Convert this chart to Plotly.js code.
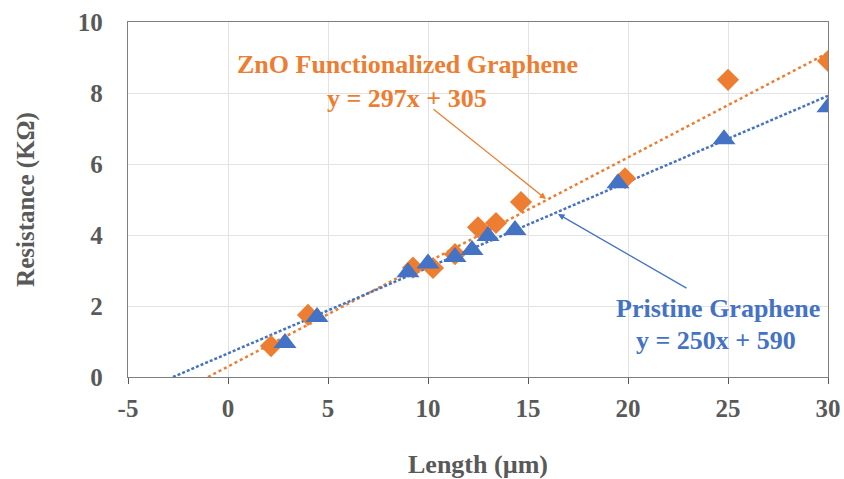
<!DOCTYPE html>
<html><head><meta charset="utf-8">
<script src="https://cdn.plot.ly/plotly-3.0.1.min.js"></script>
<style>html,body{margin:0;padding:0;background:#fff}#chart{width:844px;height:479px}</style>
</head><body><div id="chart"></div>
<script>
// Data (Length in µm, Resistance in KΩ)
const znoLength = [2.15, 4.0, 9.25, 10.25, 11.35, 12.5, 13.4, 14.65, 19.85, 25.0, 30.0];
const znoResistance = [0.87, 1.75, 3.08, 3.07, 3.46, 4.22, 4.34, 4.93, 5.6, 8.37, 8.9];
const pristineLength = [2.85, 4.45, 9.0, 10.0, 11.35, 12.2, 13.0, 14.35, 19.5, 24.8, 30.0];
const pristineResistance = [0.96, 1.69, 2.95, 3.2, 3.38, 3.58, 3.97, 4.14, 5.46, 6.7, 7.6];
// Trendline end points as drawn
const znoTrendX = [-1.0, 30];
const znoTrendY = [0, 9.13];
const pristineTrendX = [-2.75, 30];
const pristineTrendY = [0, 7.92];

const xTicks = [-5, 0, 5, 10, 15, 20, 25, 30];
const yTicks = [0, 2, 4, 6, 8, 10];

const ORANGE = '#ED7D31', BLUE = '#4472C4', GRAY = '#595959';
const SERIF = 'Liberation Serif';

const traces = [
  {x: znoTrendX, y: znoTrendY, mode: 'lines', line: {color: ORANGE, width: 2.5, dash: 'dot'}, hoverinfo: 'skip'},
  {x: pristineTrendX, y: pristineTrendY, mode: 'lines', line: {color: BLUE, width: 2.5, dash: '3px,2px'}, hoverinfo: 'skip'},
  {x: znoLength, y: znoResistance, mode: 'markers', name: 'ZnO Functionalized Graphene',
   marker: {symbol: 'diamond', size: 17, color: ORANGE}},
  {x: pristineLength, y: pristineResistance, mode: 'markers', name: 'Pristine Graphene',
   marker: {symbol: 'triangle-up', size: 20, color: BLUE}}
];

const layout = {
  width: 844, height: 479,
  margin: {l: 128, r: 16, t: 22, b: 102},
  paper_bgcolor: '#fff', plot_bgcolor: '#fff',
  showlegend: false,
  font: {family: SERIF, color: GRAY},
  xaxis: {
    range: [-5, 30], tickvals: xTicks, ticktext: xTicks.map(String),
    showgrid: true, gridcolor: '#e3e3e3', gridwidth: 1,
    zeroline: false, showline: true, linecolor: '#7f7f7f', linewidth: 1.2, mirror: true,
    ticks: 'outside', ticklen: 6, tickcolor: '#595959', ticklabelstandoff: 3,
    tickfont: {family: SERIF, size: 25, color: GRAY, weight: 'bold'},
    title: {text: 'Length (µm)', font: {family: SERIF, size: 26, color: GRAY, weight: 'bold'}, standoff: 34}
  },
  yaxis: {
    range: [0, 10], tickvals: yTicks, ticktext: yTicks.map(String),
    showgrid: true, gridcolor: '#e3e3e3', gridwidth: 1,
    zeroline: false, showline: true, linecolor: '#7f7f7f', linewidth: 1.2, mirror: true,
    ticks: '', ticklabelstandoff: 19,
    tickfont: {family: SERIF, size: 25, color: GRAY, weight: 'bold'},
    title: {text: 'Resistance (KΩ)', font: {family: SERIF, size: 25, color: GRAY, weight: 'bold'}, standoff: 36}
  },
  annotations: [
    {xref: 'paper', yref: 'paper', x: (407-128)/700, y: (377-65)/355, text: 'ZnO Functionalized Graphene',
     showarrow: false, font: {family: SERIF, size: 26, color: ORANGE, weight: 'bold'}, xanchor: 'center', yanchor: 'middle'},
    {xref: 'paper', yref: 'paper', x: (407-128)/700, y: (377-98)/355, text: 'y = 297x + 305',
     showarrow: false, font: {family: SERIF, size: 26, color: ORANGE, weight: 'bold'}, xanchor: 'center', yanchor: 'middle'},
    {xref: 'paper', yref: 'paper', x: (718-128)/700, y: (377-308)/355, text: 'Pristine Graphene',
     showarrow: false, font: {family: SERIF, size: 26, color: BLUE, weight: 'bold'}, xanchor: 'center', yanchor: 'middle'},
    {xref: 'paper', yref: 'paper', x: (716-128)/700, y: (377-340)/355, text: 'y = 250x + 590',
     showarrow: false, font: {family: SERIF, size: 26, color: BLUE, weight: 'bold'}, xanchor: 'center', yanchor: 'middle'},
    {xref: 'paper', yref: 'paper', x: (546-128)/700, y: (377-199)/355, ax: (432-128)/700, ay: (377-108)/355,
     axref: 'paper', ayref: 'paper', text: '', showarrow: true, arrowhead: 2, arrowsize: 1, arrowwidth: 1.3, arrowcolor: ORANGE, standoff: 0},
    {xref: 'paper', yref: 'paper', x: (558-128)/700, y: (377-214)/355, ax: (688-128)/700, ay: (377-289)/355,
     axref: 'paper', ayref: 'paper', text: '', showarrow: true, arrowhead: 2, arrowsize: 1, arrowwidth: 1.3, arrowcolor: BLUE, standoff: 0}
  ]
};

Plotly.newPlot('chart', traces, layout, {displayModeBar: false, staticPlot: true});
</script></body></html>
